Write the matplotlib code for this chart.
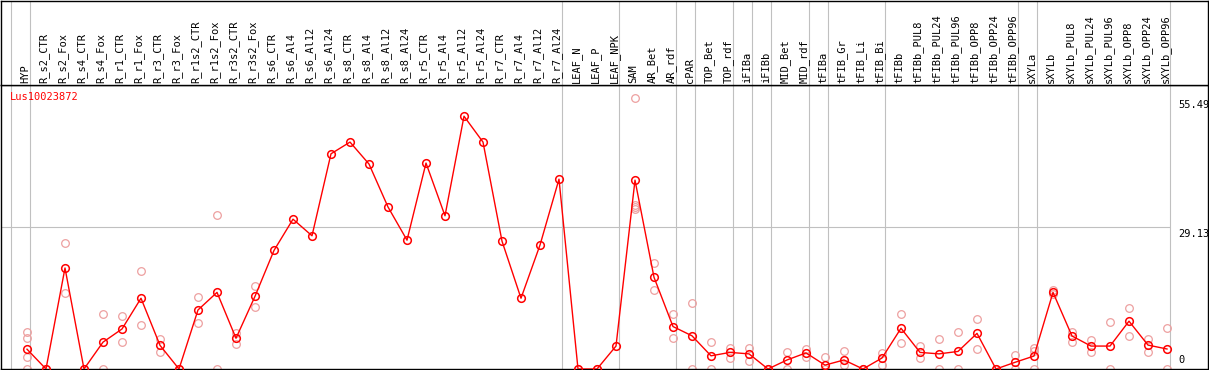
import matplotlib
matplotlib.use("Agg")
import matplotlib.pyplot as plt

# sample columns, left to right
samples = [
    "HYP", "R_s2_CTR", "R_s2_Fox", "R_s4_CTR", "R_s4_Fox", "R_r1_CTR", "R_r1_Fox",
    "R_r3_CTR", "R_r3_Fox", "R_r1s2_CTR", "R_r1s2_Fox", "R_r3s2_CTR", "R_r3s2_Fox",
    "R_s6_CTR", "R_s6_Al4", "R_s6_Al12", "R_s6_Al24", "R_s8_CTR", "R_s8_Al4",
    "R_s8_Al12", "R_s8_Al24", "R_r5_CTR", "R_r5_Al4", "R_r5_Al12", "R_r5_Al24",
    "R_r7_CTR", "R_r7_Al4", "R_r7_Al12", "R_r7_Al24", "LEAF_N", "LEAF_P", "LEAF_NPK",
    "SAM", "AR_Bet", "AR_rdf", "cPAR", "TOP_Bet", "TOP_rdf", "iFIBa", "iFIBb",
    "MID_Bet", "MID_rdf", "tFIBa", "tFIB_Gr", "tFIB_Li", "tFIB_Bi", "tFIBb",
    "tFIBb_PUL8", "tFIBb_PUL24", "tFIBb_PUL96", "tFIBb_OPP8", "tFIBb_OPP24",
    "tFIBb_OPP96", "sXYLa", "sXYLb", "sXYLb_PUL8", "sXYLb_PUL24", "sXYLb_PUL96",
    "sXYLb_OPP8", "sXYLb_OPP24", "sXYLb_OPP96",
]

# mean expression per sample
mean_expr = [
    4.06, 0, 20.7, 0, 5.5, 8.2, 14.5, 4.85, 0, 12.1, 15.7, 6.3, 14.9,
    24.3, 30.7, 27.3, 44.1, 46.5, 42.0, 33.2, 26.4, 42.2, 31.4, 51.8, 46.5,
    26.2, 14.5, 25.4, 38.9, 0, 0, 4.7,
    38.7, 18.8, 8.7, 6.8, 2.7, 3.4, 3.1, 0,
    1.85, 3.3, 0.8, 1.85, 0, 2.25, 8.35,
    3.4, 3.1, 3.6, 7.3, 0, 1.37, 2.66, 15.7,
    6.76, 4.7, 4.7, 9.8, 4.9, 4.1,
]

# individual replicates per sample
rep_expr = [
    [7.5, 6.3, 2.5, 0], [0], [25.8, 15.5], [0], [11.2, 0], [10.9, 5.5], [20.1, 8.95],
    [6.15, 3.55], [0], [14.7, 9.4], [31.6, 0], [7.3, 5.1], [17.0, 12.8],
    [], [], [], [], [], [], [], [], [], [], [], [],
    [], [], [], [], [0], [0], [],
    [55.5, 33.6, 33.2, 32.8], [21.8, 16.2], [11.3, 6.35], [13.5, 0], [5.5, 0],
    [4.4, 2.3], [4.3, 1.65], [0],
    [3.5, 0], [4.1, 2.5], [2.4, 0], [3.7, 0.8], [0], [3.3, 0.8], [11.2, 5.3],
    [4.7, 2.2], [6.1, 0], [7.5, 0], [10.2, 4.2], [0], [2.9, 0], [4.4, 3.6, 0],
    [16.2, 15.3],
    [7.5, 5.6], [5.9, 3.55], [9.6, 0], [12.6, 6.8], [6.1, 3.55], [8.3, 0],
]

# sample index after which a group separator is drawn
group_breaks = [-1, 0, 28, 31, 34, 35, 37, 38, 39, 41, 42, 45, 52, 53, 60]
scale_marks = [55.49, 29.13]
gene_id = "Lus10023872"

# layout in pixels
W, H = 1209, 370
x0_px, step_px = 27, 19
left_px, right_px = 1, 1208
top_px, bot_px = 85, 369
ppu = 4.88

xlim = ((left_px - x0_px) / step_px, (right_px - x0_px) / step_px)
ylim = (0, (bot_px - top_px) / ppu)

mono = "DejaVu Sans Mono"
grey = "#c0c0c0"

fig = plt.figure(figsize=(W / 100, H / 100), dpi=100)
ax = fig.add_axes([left_px / W, (H - bot_px) / H, (right_px - left_px) / W, (bot_px - top_px) / H])
hdr = fig.add_axes([left_px / W, (H - top_px) / H, (right_px - left_px) / W, (top_px - 1) / H])

for a in (ax, hdr):
    a.set_xlim(*xlim)
    a.set_xticks([])
    a.set_yticks([])
    for s in a.spines.values():
        s.set_color("black")
        s.set_linewidth(1.0)
    for b in group_breaks:
        a.axvline(b + 0.18, color=grey, lw=0.8, zorder=0)
ax.set_ylim(*ylim)
hdr.set_ylim(0, 1)

for i, name in enumerate(samples):
    hdr.text(i - 0.1, 0.025, name, rotation=90, ha="center", va="bottom",
             fontsize=7.5, family=mono)

ax.hlines(scale_marks[1], xlim[0], group_breaks[-1] + 0.18, color=grey, lw=0.8, zorder=0)

for i, reps in enumerate(rep_expr):
    ax.plot([i] * len(reps), reps, "o", mfc="none", mec="#eda0a0", ms=5.5, mew=0.9, zorder=2)

ax.plot(range(len(samples)), mean_expr, "-", color="red", lw=1.0, marker="o",
        mfc="none", mec="red", ms=5.5, mew=1.1, zorder=3)

label_x = (1178 - x0_px) / step_px
for v in scale_marks:
    ax.text(label_x, v - 0.4, f"{v:.2f}", ha="left", va="top", fontsize=7.5, family=mono)
ax.text(label_x, 0.8, "0", ha="left", va="bottom", fontsize=7.5, family=mono)

ax.text((10 - x0_px) / step_px, (bot_px - 97) / ppu, gene_id, color="red",
        ha="left", va="center", fontsize=7.5, family=mono)

fig.savefig("out.png", dpi=100)
